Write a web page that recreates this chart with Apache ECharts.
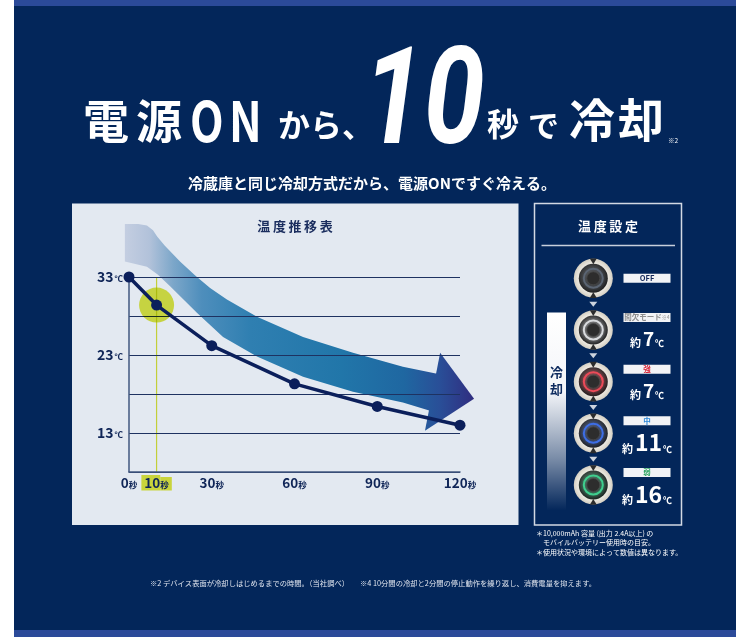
<!DOCTYPE html>
<html>
<head>
<meta charset="utf-8">
<title>温度推移表</title>
<script src="https://cdn.jsdelivr.net/npm/echarts@6/dist/echarts.min.js"></script>
<style>
    html, body { margin: 0; padding: 0; background: #fff; }
    #main { width: 750px; height: 637px; }
</style>
</head>
<body>
<div id="main"></div>
<script>
    // 温度推移（秒 → ℃）
    var timeSec = [0, 10, 30, 60, 90, 120];
    var tempC = [33, 29.4, 24.2, 19.3, 16.4, 14.0];
    var xTickLabels = [0, 10, 30, 60, 90, 120];
    var yTickLabels = [13, 23, 33];
    var highlightSec = 10;

    // 温度設定
    var modeNames = ['OFF', '間欠モード※4', '強', '中', '弱'];
    var modeTemps = [null, 7, 7, 11, 16];

    var FONT = '"Noto Sans CJK JP", "Noto Sans", sans-serif';
    var NAVY = '#0f2557';
    var HL_FILL = '#dfe745';
    var modeRing = ['#5b6573', '#d9dbde', '#ec4a58', '#3d6ee6', '#3fcf8e'];
    var modeText = ['#14285a', '#8d8d8d', '#d9283a', '#2a86d8', '#2aa35f'];

    var chart = echarts.init(document.getElementById('main'));

    // 矢印（装飾）
    function renderArrow(params, api) {
        var top = [[-1.5, 39.8], [3.3, 39.8], [6.5, 39.6], [8.7, 39.0], [10.2, 38.2], [13, 37],
            [18.5, 35.0], [24, 33.2], [29.4, 31.6], [35.5, 30.1], [46.4, 27.9], [63.1, 25.3],
            [81.2, 23.3], [99.3, 21.5], [113, 20.5]];
        var bottom = [[-1.5, 35.0], [6.5, 34.3], [10.5, 33.3], [14.9, 31.8], [24.7, 28.4], [34.1, 25.3],
            [46.4, 22.8], [63.1, 20.2], [81.2, 18.3], [99.3, 16.9], [111.5, 15.6]];
        var head = [[112.8, 23.3], [125.1, 17.4], [107.3, 13.3]];
        var c = function (p) { return api.coord(p); };
        var body = top.map(c).concat(bottom.slice().reverse().map(c));
        var h = head.map(c);
        var fill = new echarts.graphic.LinearGradient(c(top[0])[0], 0, h[1][0], 0, [
            {offset: 0, color: '#c4cee1'},
            {offset: 0.07, color: '#b2c2da'},
            {offset: 0.14, color: '#7ba6c9'},
            {offset: 0.22, color: '#4e8ebc'},
            {offset: 0.36, color: '#2f7fb1'},
            {offset: 0.62, color: '#2176a9'},
            {offset: 0.8, color: '#1f67a1'},
            {offset: 0.9, color: '#294f98'},
            {offset: 1, color: '#302d80'}
        ], true);
        return {
            type: 'group',
            children: [
                {type: 'polygon', shape: {points: body}, style: {fill: fill}},
                {type: 'polygon', shape: {points: h}, style: {fill: fill}}
            ]
        };
    }

    function renderHighlight(params, api) {
        var p = api.coord([api.value(0), api.value(1)]);
        return {
            type: 'circle',
            shape: {cx: p[0], cy: p[1], r: 17.5},
            style: {fill: HL_FILL}
        };
    }

    function renderKnob(params, api) {
        var i = params.dataIndex;
        var p = api.coord([api.value(0), api.value(1)]);
        var ring = modeRing[i];
        return {
            type: 'group', x: p[0], y: p[1],
            children: [
                {type: 'circle', shape: {cx: 0, cy: 0, r: 19.5},
                    style: {fill: new echarts.graphic.RadialGradient(0.5, 0.5, 0.5, [
                        {offset: 0.7, color: '#f4f1ea'}, {offset: 1, color: '#d3cec2'}])}},
                {type: 'polygon', shape: {points: [[-3.5, -19.8], [3.5, -19.8], [0, -14]]}, style: {fill: '#2c2c2c'}},
                {type: 'polygon', shape: {points: [[-3.5, 19.8], [3.5, 19.8], [0, 14]]}, style: {fill: '#2c2c2c'}},
                {type: 'circle', shape: {cx: 0, cy: 0, r: 14.5},
                    style: {fill: new echarts.graphic.RadialGradient(0.45, 0.4, 0.6, [
                        {offset: 0, color: '#5a5a5a'}, {offset: 1, color: '#1d1d1d'}])}},
                {type: 'circle', shape: {cx: 0, cy: 0, r: 9.5},
                    style: {fill: 'none', stroke: ring, lineWidth: 2, shadowBlur: 5, shadowColor: ring}},
                {type: 'circle', shape: {cx: 0, cy: 0, r: 6.5}, style: {fill: '#2d2d2d', stroke: '#474747', lineWidth: 0.8}}
            ]
        };
    }

    function renderModeLabel(params, api) {
        var i = params.dataIndex;
        var p = api.coord([api.value(0), api.value(1)]);
        var boxY = i === 0 ? 0 : -12.5;
        var ch = [
            {type: 'rect', shape: {x: -23.5, y: boxY - 4.5, width: 47, height: 9}, style: {fill: '#f2f3f6'}},
            {type: 'text', x: 0, y: boxY, style: {
                text: modeNames[i].replace('※4', '{s|※4}'), fill: modeText[i],
                fontSize: 7.5, fontWeight: 'bold', fontFamily: FONT, align: 'center', verticalAlign: 'middle',
                rich: {s: {fontSize: 5, fill: modeText[i], fontFamily: FONT}}
            }}
        ];
        var t = modeTemps[i];
        if (t != null) {
            var big = String(t).length > 1 ? 23 : 19;
            ch.push({type: 'text', x: 0, y: 9, style: {
                text: '{a|約}{b|' + t + '}{c|℃}', align: 'center', verticalAlign: 'middle',
                rich: {
                    a: {fontSize: 11, fontWeight: 'bold', fontFamily: FONT, fill: '#fff', lineHeight: 12, verticalAlign: 'bottom', padding: [0, 2, 0, 0]},
                    b: {fontSize: big, fontWeight: 'bold', fontFamily: FONT, fill: '#fff', lineHeight: big, verticalAlign: 'bottom'},
                    c: {fontSize: 9, fontWeight: 'bold', fontFamily: FONT, fill: '#fff', lineHeight: 10, verticalAlign: 'bottom', padding: [0, 0, 0, 1]}
                }
            }});
        }
        return {type: 'group', x: p[0], y: p[1], children: ch};
    }

    function txt(s, x, y, size, o) {
        o = o || {};
        return {
            type: 'text', x: x, y: y, z: 10, silent: true,
            scaleX: o.scaleX || 1,
            style: {
                text: s, fill: o.color || '#fff', fontSize: size, fontWeight: o.weight || 'bold',
                fontFamily: o.family || FONT, fontStyle: o.italic ? 'italic' : 'normal',
                textAlign: o.align || 'left', textVerticalAlign: 'middle',
                lineHeight: o.lineHeight, rich: o.rich
            }
        };
    }

    var axisRich = {
        n: {fontSize: 13.5, fontWeight: 'bold', color: NAVY, fontFamily: FONT, lineHeight: 13, verticalAlign: 'bottom', padding: [1, 0, 1, 3]},
        u: {fontSize: 8.5, fontWeight: 'bold', color: NAVY, fontFamily: FONT, lineHeight: 10, verticalAlign: 'bottom', padding: [4, 3, 1, 0]},
        gn: {fontSize: 13.5, fontWeight: 'bold', color: NAVY, fontFamily: FONT, lineHeight: 13, verticalAlign: 'bottom', padding: [1, 0, 1, 3], backgroundColor: '#c9d43c'},
        gu: {fontSize: 8.5, fontWeight: 'bold', color: NAVY, fontFamily: FONT, lineHeight: 10, verticalAlign: 'bottom', padding: [4, 3, 1, 0], backgroundColor: '#c9d43c'}
    };

    var lineData = timeSec.map(function (t, i) { return [t, tempC[i]]; });
    var highlightData = [[highlightSec, tempC[timeSec.indexOf(highlightSec)]]];

    chart.setOption({
        animation: false,
        backgroundColor: '#ffffff',
        grid: [
            {left: 129, top: 277, width: 331, height: 195},
            {left: 593.3, top: 278.3, width: 53.7, height: 206.7}
        ],
        xAxis: [
            {
                gridIndex: 0, type: 'value', min: 0, max: 120, z: 2,
                axisLine: {lineStyle: {color: '#42577f', width: 1.5}},
                axisTick: {show: false},
                splitLine: {show: false},
                axisLabel: {
                    customValues: xTickLabels, margin: 5.5,
                    formatter: function (v) {
                        v = Math.round(v);
                        return v === highlightSec ? '{gn|' + v + '}{gu|秒}' : '{n|' + v + '}{u|秒}';
                    },
                    rich: axisRich
                }
            },
            {gridIndex: 1, type: 'value', min: 0, max: 1, show: false}
        ],
        yAxis: [
            {
                gridIndex: 0, type: 'value', min: 8, max: 33, interval: 5, z: 2,
                axisLine: {show: true, lineStyle: {color: '#42577f', width: 1.5}},
                axisTick: {show: false},
                splitLine: {lineStyle: {color: '#1e3261', width: 1.2}},
                axisLabel: {
                    customValues: yTickLabels, margin: 6,
                    formatter: function (v) { return '{n|' + v + '}{u|℃}'; },
                    rich: {
                        n: {fontSize: 14, fontWeight: 'bold', color: NAVY, fontFamily: FONT, lineHeight: 14, verticalAlign: 'bottom'},
                        u: {fontSize: 8.5, fontWeight: 'bold', color: NAVY, fontFamily: FONT, lineHeight: 10, verticalAlign: 'bottom', padding: [0, 0, 1, 1]}
                    }
                }
            },
            {gridIndex: 1, type: 'value', min: 0, max: 4, inverse: true, show: false}
        ],
        series: [
            {
                type: 'custom', xAxisIndex: 0, yAxisIndex: 0, z: 1, clip: false, silent: true,
                renderItem: renderArrow, data: [[0, 0]]
            },
            {
                type: 'line', xAxisIndex: 0, yAxisIndex: 0, z: 1.5, silent: true, symbol: 'none',
                lineStyle: {color: '#c3cf3a', width: 1.2},
                data: [[highlightSec, 33], [highlightSec, 8]]
            },
            {
                type: 'custom', xAxisIndex: 0, yAxisIndex: 0, z: 3, clip: false, silent: true,
                renderItem: renderHighlight, data: highlightData
            },
            {
                type: 'line', xAxisIndex: 0, yAxisIndex: 0, z: 4, clip: false, silent: true,
                symbol: 'circle', symbolSize: 11,
                lineStyle: {color: '#0b1f5b', width: 3.5},
                itemStyle: {color: '#0b1f5b'},
                data: lineData
            },
            {
                type: 'scatter', xAxisIndex: 1, yAxisIndex: 1, z: 5, silent: true,
                symbol: 'triangle', symbolRotate: 180, symbolSize: [8, 5],
                itemStyle: {color: '#ffffff'},
                data: modeNames.slice(1).map(function (n, i) { return [0, i + 0.5]; })
            },
            {
                type: 'custom', xAxisIndex: 1, yAxisIndex: 1, z: 5, clip: false, silent: true,
                renderItem: renderKnob,
                data: modeNames.map(function (n, i) { return [0, i]; })
            },
            {
                type: 'custom', xAxisIndex: 1, yAxisIndex: 1, z: 5, clip: false, silent: true,
                renderItem: renderModeLabel,
                data: modeNames.map(function (n, i) { return [1, i]; })
            }
        ],
        graphic: [
            // 背景
            {type: 'rect', z: -10, silent: true, shape: {x: 14, y: 0, width: 722, height: 637}, style: {fill: '#03265a'}},
            {type: 'rect', z: -9, silent: true, shape: {x: 14, y: 0, width: 722, height: 6}, style: {fill: '#2b4a99'}},
            {type: 'rect', z: -9, silent: true, shape: {x: 14, y: 630, width: 722, height: 7}, style: {fill: '#2b4a99'}},
            {type: 'rect', z: -9, silent: true, shape: {x: 72, y: 203.5, width: 446.5, height: 321.5}, style: {fill: '#e3e9f1'}},
            {type: 'rect', z: -9, silent: true, shape: {x: 534.5, y: 203.5, width: 147, height: 321.5}, style: {fill: 'none', stroke: '#d3d9e4', lineWidth: 1.5}},
            {type: 'line', z: -9, silent: true, shape: {x1: 541.5, y1: 245.5, x2: 675, y2: 245.5}, style: {stroke: '#c8cfdc', lineWidth: 1.5}},
            {type: 'rect', z: -9, silent: true, shape: {x: 547, y: 312.5, width: 19, height: 198},
                style: {fill: new echarts.graphic.LinearGradient(0, 0, 0, 1, [
                    {offset: 0, color: '#ffffff'}, {offset: 0.4, color: '#f3f5f9'},
                    {offset: 0.75, color: 'rgba(255,255,255,0.45)'}, {offset: 1, color: 'rgba(255,255,255,0)'}])}},
            txt('冷\n却', 556.5, 381, 13, {color: '#0d2a5e', align: 'center', lineHeight: 17}),

            // 見出し
            txt('電', 83, 121, 46),
            txt('源', 136, 121, 46),
            txt('O', 190, 121, 56, {scaleX: 0.78}),
            txt('N', 229, 121, 56, {scaleX: 0.78}),
            txt('から、', 278, 125, 32),
            txt('10', 363, 109, 135, {scaleX: 0.81, italic: true, family: 'Roboto, "Noto Sans", sans-serif'}),
            txt('秒', 487, 124, 32),
            txt('で', 528, 125, 31),
            txt('冷', 569, 120, 46),
            txt('却', 618, 120, 46),
            txt('※2', 668, 141, 6.5, {weight: 'normal'}),
            txt('冷蔵庫と同じ冷却方式だから、電源ONですぐ冷える。', 372, 183, 15, {align: 'center'}),

            // パネル見出し
            txt('温\u2009度\u2009推\u2009移\u2009表', 295, 226, 13, {color: '#1a2d5e', align: 'center'}),
            txt('温\u2009度\u2009設\u2009定', 608, 226, 13, {align: 'center'}),

            // 注記
            txt('＊10,000mAh 容量 (出力 2.4A以上) の', 536, 533, 7, {weight: 'normal'}),
            txt('　モバイルバッテリー使用時の目安。', 536, 542, 7, {weight: 'normal'}),
            txt('＊使用状況や環境によって数値は異なります。', 536, 552, 7, {weight: 'normal'}),
            txt('※2 デバイス表面が冷却しはじめるまでの時間。（当社調べ）　　※4 10分間の冷却と2分間の停止動作を繰り返し、消費電量を抑えます。', 373, 583, 7.3, {weight: 'normal', color: '#dfe4ee', align: 'center'})
        ]
    });

    // ハイライト円は乗算で矢印に重ねる
    var zr = chart.getZr();
    zr.storage.getDisplayList(true).forEach(function (el) {
        if (el.style && el.style.fill === HL_FILL) {
            el.style.blend = 'multiply';
            el.dirty();
        }
    });
    zr.refreshImmediately();
</script>
</body>
</html>
